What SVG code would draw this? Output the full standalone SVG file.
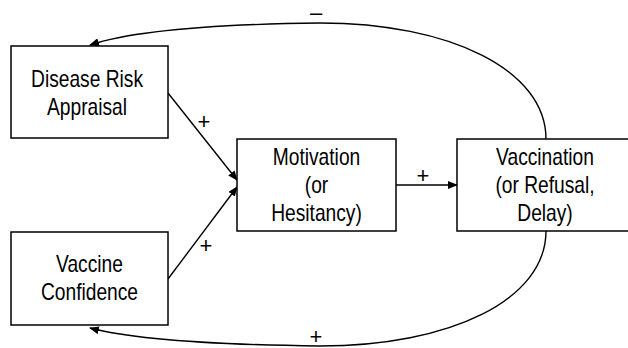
<svg xmlns="http://www.w3.org/2000/svg" width="628" height="348" viewBox="0 0 628 348">
<defs>
<style>
.box{fill:#fff;stroke:#000;stroke-width:1.5}
.t{font-family:"Liberation Sans",Arial,sans-serif;font-size:24px;fill:#000;text-anchor:middle}
.s{font-family:"Liberation Sans","DejaVu Sans",sans-serif;font-size:22px;fill:#000;text-anchor:middle}
.c{fill:none;stroke:#000;stroke-width:1.4}
</style>
<marker id="ah" markerWidth="10" markerHeight="8" refX="9" refY="4" orient="auto" markerUnits="userSpaceOnUse">
<path d="M0,0 L10,4 L0,8 Z" fill="#000"/>
</marker>
</defs>
<g id="connectors">
<path class="c" d="M168,93 L237,180" marker-end="url(#ah)"/>
<path class="c" d="M168,279 L237,187" marker-end="url(#ah)"/>
<path class="c" d="M396,185 L457,185" marker-end="url(#ah)"/>
<path class="c" d="M546,139 C546,70 450,23 320,23 Q150,25 90,45" marker-end="url(#ah)"/>
<path class="c" d="M546,231 C546,300 450,346 320,346 Q150,344 90,328" marker-end="url(#ah)"/>
<text class="s" x="204" y="129">+</text>
<text class="s" x="206" y="253">+</text>
<text class="s" x="423" y="183">+</text>
<text class="s" x="316" y="20">–</text>
<text class="s" x="316" y="344">+</text>
</g>
<g id="disease-risk">
<rect class="box" x="11" y="46" width="157" height="92"/>
<g transform="translate(87,0) scale(0.8,1)">
<text class="t" x="0" y="87">Disease Risk</text>
<text class="t" x="0" y="115">Appraisal</text>
</g>
</g>
<g id="vaccine-confidence">
<rect class="box" x="11" y="232" width="157" height="93"/>
<g transform="translate(89.5,0) scale(0.8,1)">
<text class="t" x="0" y="272">Vaccine</text>
<text class="t" x="0" y="300">Confidence</text>
</g>
</g>
<g id="motivation">
<rect class="box" x="237" y="139" width="159" height="92"/>
<g transform="translate(316.5,0) scale(0.8,1)">
<text class="t" x="0" y="165">Motivation</text>
<text class="t" x="0" y="193">(or</text>
<text class="t" x="0" y="221">Hesitancy)</text>
</g>
</g>
<g id="vaccination">
<rect class="box" x="457" y="139" width="180" height="92"/>
<g transform="translate(545,0) scale(0.8,1)">
<text class="t" x="0" y="165">Vaccination</text>
<text class="t" x="0" y="193">(or Refusal,</text>
<text class="t" x="0" y="221">Delay)</text>
</g>
</g>
</svg>
